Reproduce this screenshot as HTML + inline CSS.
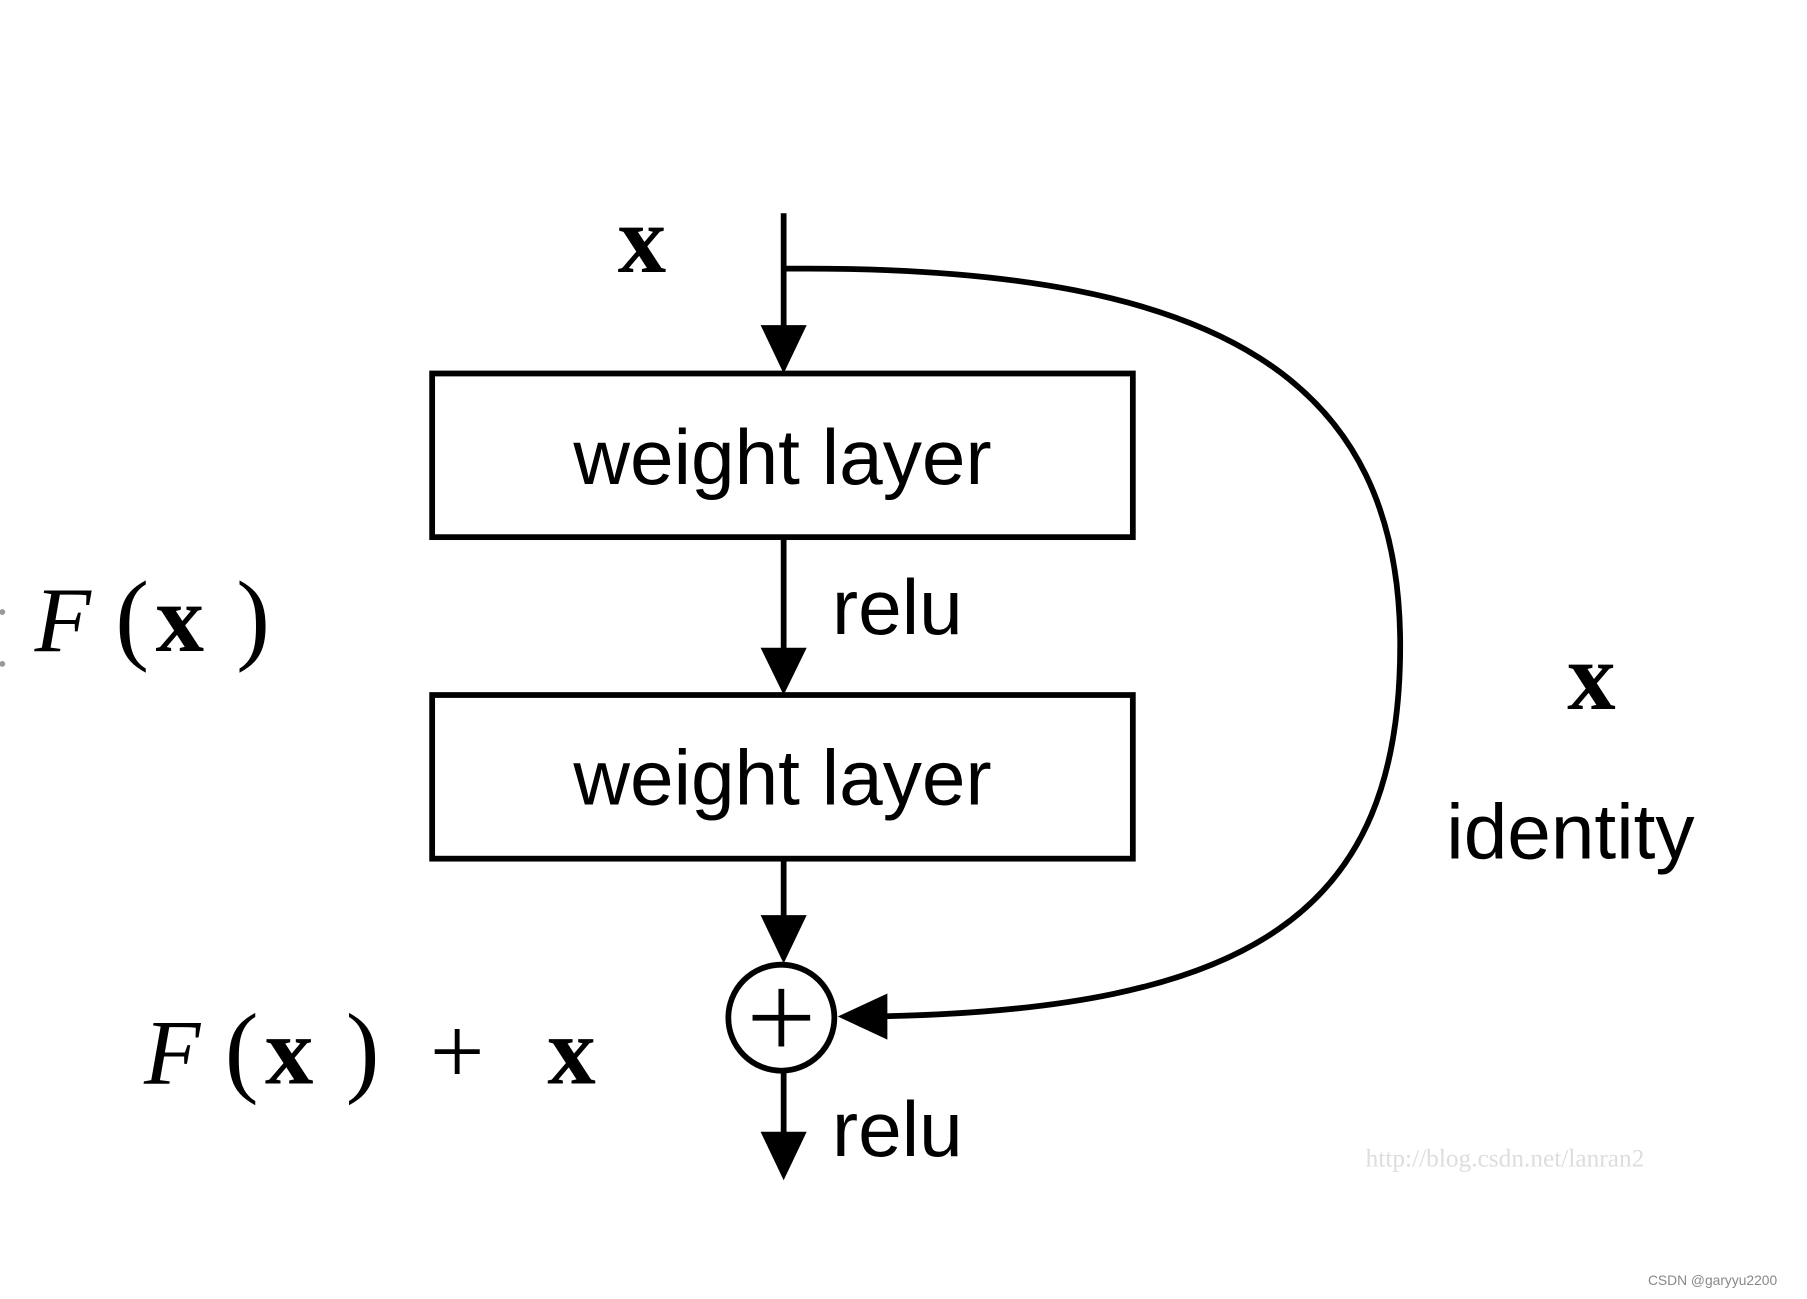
<!DOCTYPE html>
<html><head><meta charset="utf-8"><style>
html,body{margin:0;padding:0;background:#fff;}
svg{display:block;}
</style></head><body>
<svg width="1807" height="1299" viewBox="0 0 1568 1127" xmlns="http://www.w3.org/2000/svg">
<rect width="1568" height="1127" fill="#fff"/>
<g stroke="#000" stroke-width="5" fill="none">
<line x1="680" y1="185" x2="680" y2="300"/>
<rect x="375" y="324" width="608" height="142"/>
<line x1="680" y1="466" x2="680" y2="580"/>
<rect x="375" y="603" width="608" height="142"/>
<line x1="680" y1="745" x2="680" y2="812"/>
<circle cx="678" cy="883" r="46"/>
<line x1="678" y1="858" x2="678" y2="908"/>
<line x1="653" y1="883" x2="703" y2="883"/>
<line x1="680" y1="930" x2="680" y2="1000"/>
<path d="M680 233 L700 233 C1060 233 1215 330 1215 560 C1215 790 1090 878 750 882"/>
</g>
<g fill="#000">
<polygon points="660,282 700,282 680,324"/>
<polygon points="660,562 700,562 680,603"/>
<polygon points="660,794 700,794 680,836"/>
<polygon points="660,982 700,982 680,1024"/>
<polygon points="770,862 770,902 727,882"/>
</g>
<g font-family="Liberation Sans, sans-serif" font-size="68" fill="#000">
<text x="679" y="420" text-anchor="middle">weight layer</text>
<text x="679" y="698" text-anchor="middle">weight layer</text>
<text x="722" y="550">relu</text>
<text x="722" y="1003">relu</text>
<text x="1255" y="745">identity</text>
</g>
<g font-family="Liberation Serif, serif" fill="#000">
<text x="536" y="236" font-size="84" font-weight="bold">x</text>
<text x="1360" y="615" font-size="84" font-weight="bold">x</text>
<text x="30" y="565" font-size="80" font-style="italic">F</text>
<text x="100" y="565" font-size="88">(</text>
<text x="135" y="565" font-size="84" font-weight="bold">x</text>
<text x="205" y="565" font-size="88">)</text>
<text x="125" y="940" font-size="80" font-style="italic">F</text>
<text x="195" y="940" font-size="88">(</text>
<text x="230" y="940" font-size="84" font-weight="bold">x</text>
<text x="300" y="940" font-size="88">)</text>
<text x="373" y="940" font-size="84">+</text>
<text x="475" y="940" font-size="84" font-weight="bold">x</text>
<text x="1185" y="1012" font-size="22" fill="#ddd">http://blog.csdn.net/lanran2</text>
</g>
<circle cx="2" cy="531" r="2.5" fill="#999"/>
<circle cx="2" cy="576" r="2.5" fill="#999"/>
<text x="1430" y="1115" font-family="Liberation Sans, sans-serif" font-size="12" fill="#888">CSDN @garyyu2200</text>
</svg>
</body></html>
